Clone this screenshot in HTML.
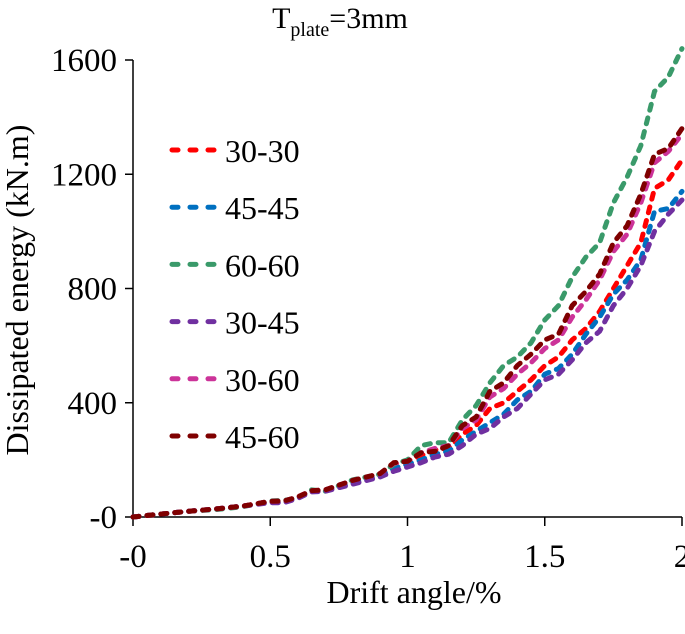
<!DOCTYPE html>
<html><head><meta charset="utf-8"><style>
body{margin:0;background:#fff}
svg text{font-family:"Liberation Serif",serif;fill:#000}
</style></head><body>
<svg width="685" height="629" viewBox="0 0 685 629">
<text x="340" y="28" font-size="30" text-anchor="middle">T<tspan font-size="20" dy="8">plate</tspan><tspan dy="-8">=3mm</tspan></text>
<g id="axes"></g>
<g id="series"></g>
<g id="legend"></g>
<text x="414" y="603" font-size="32" text-anchor="middle">Drift angle/%</text>
<text transform="translate(28,290) rotate(-90)" font-size="32" text-anchor="middle">Dissipated energy (kN.m)</text>
</svg>
<script>
const xs=[0,0.1,0.2,0.3,0.4,0.5,0.55,0.6,0.65,0.7,0.8,0.9,0.95,1.0,1.05,1.1,1.15,1.2,1.25,1.3,1.35,1.4,1.45,1.5,1.55,1.6,1.65,1.7,1.75,1.8,1.85,1.9,1.95,2.0];
const names=["30-30","45-45","60-60","30-45","30-60","45-60"];
const colors=["#ff0000","#0070c0","#3a9a6a","#7030a0","#cc3399","#7f0000"];
const s3030=[0,10,20,28,38,55,55,70,92,95,125,150,185,195,215,235,240,290,320,380,400,440,480,530,560,620,660,720,800,880,960,1150,1180,1250];
const s4545=[0,10,20,28,38,52,52,68,90,92,120,145,170,185,200,220,230,270,300,330,360,410,440,500,520,570,640,700,780,830,900,1070,1080,1140];
const s6060=[0,10,20,26,36,56,58,66,95,90,130,150,185,200,250,260,260,340,390,470,530,560,610,690,740,840,910,960,1100,1190,1300,1490,1540,1640];
const s3045=[0,10,20,28,38,50,50,65,88,90,115,140,160,175,190,210,220,250,290,310,350,380,430,480,500,550,610,650,740,800,880,1000,1060,1110];
const s3060=[0,10,20,28,38,55,56,70,92,95,128,152,188,195,225,240,250,310,340,420,450,500,540,590,620,700,760,830,930,990,1100,1240,1280,1340];
const s4560=[0,10,20,28,38,55,56,70,92,95,128,152,190,195,225,230,250,320,350,440,470,530,570,620,640,740,790,850,960,1020,1130,1270,1290,1360];
const series=[s3030,s4545,s6060,s3045,s3060,s4560];
const xTicks=[0,0.5,1,1.5,2], xLabels=["-0","0.5","1","1.5","2"];
const yTicks=[0,400,800,1200,1600], yLabels=["-0","400","800","1200","1600"];
const X=v=>133+v*274.5, Y=v=>517-v*(457/1600);
const NS="http://www.w3.org/2000/svg";
function mk(t,a,p){const e=document.createElementNS(NS,t);for(const k in a)e.setAttribute(k,a[k]);p.appendChild(e);return e;}
const ax=document.getElementById('axes');
const yl=mk('line',{x1:133,y1:Y(1600),x2:133,y2:Y(0),stroke:'#000','stroke-width':1.5},ax);


const xl=mk('line',{x1:133,y1:Y(0),x2:X(2),y2:Y(0),stroke:'#000','stroke-width':1.5},ax);


yTicks.forEach((v,i)=>{
 mk('line',{x1:125,y1:Y(v),x2:133,y2:Y(v),stroke:'#000','stroke-width':1.5},ax);
 const t=mk('text',{x:117,y:Y(v)+11,'font-size':33,'text-anchor':'end'},ax);t.textContent=yLabels[i];
 
 
});
xTicks.forEach((v,i)=>{
 mk('line',{x1:X(v),y1:Y(0),x2:X(v),y2:Y(0)+9,stroke:'#000','stroke-width':1.5},ax);
 const t=mk('text',{x:X(v),y:Y(0)+50,'font-size':33,'text-anchor':'middle'},ax);t.textContent=xLabels[i];
 
 
});
const sg=document.getElementById('series'), lg=document.getElementById('legend');
series.forEach((s,i)=>{
 const d=s.map((v,j)=>(j?'L':'M')+X(xs[j]).toFixed(1)+' '+Y(v).toFixed(1)).join(' ');
 const p=mk('path',{d:d,fill:'none',stroke:colors[i],'stroke-width':5,'stroke-dasharray':'6 8','stroke-linecap':'round'},sg);
 
 
 const ly=150+i*57.2;
 const l=mk('line',{x1:172,y1:ly,x2:214,y2:ly,stroke:colors[i],'stroke-width':5,'stroke-dasharray':'6 12','stroke-linecap':'round'},lg);
 
 
 const t=mk('text',{x:225,y:ly+12,'font-size':32},lg);t.textContent=names[i];
 
 
});
</script>
</body></html>
